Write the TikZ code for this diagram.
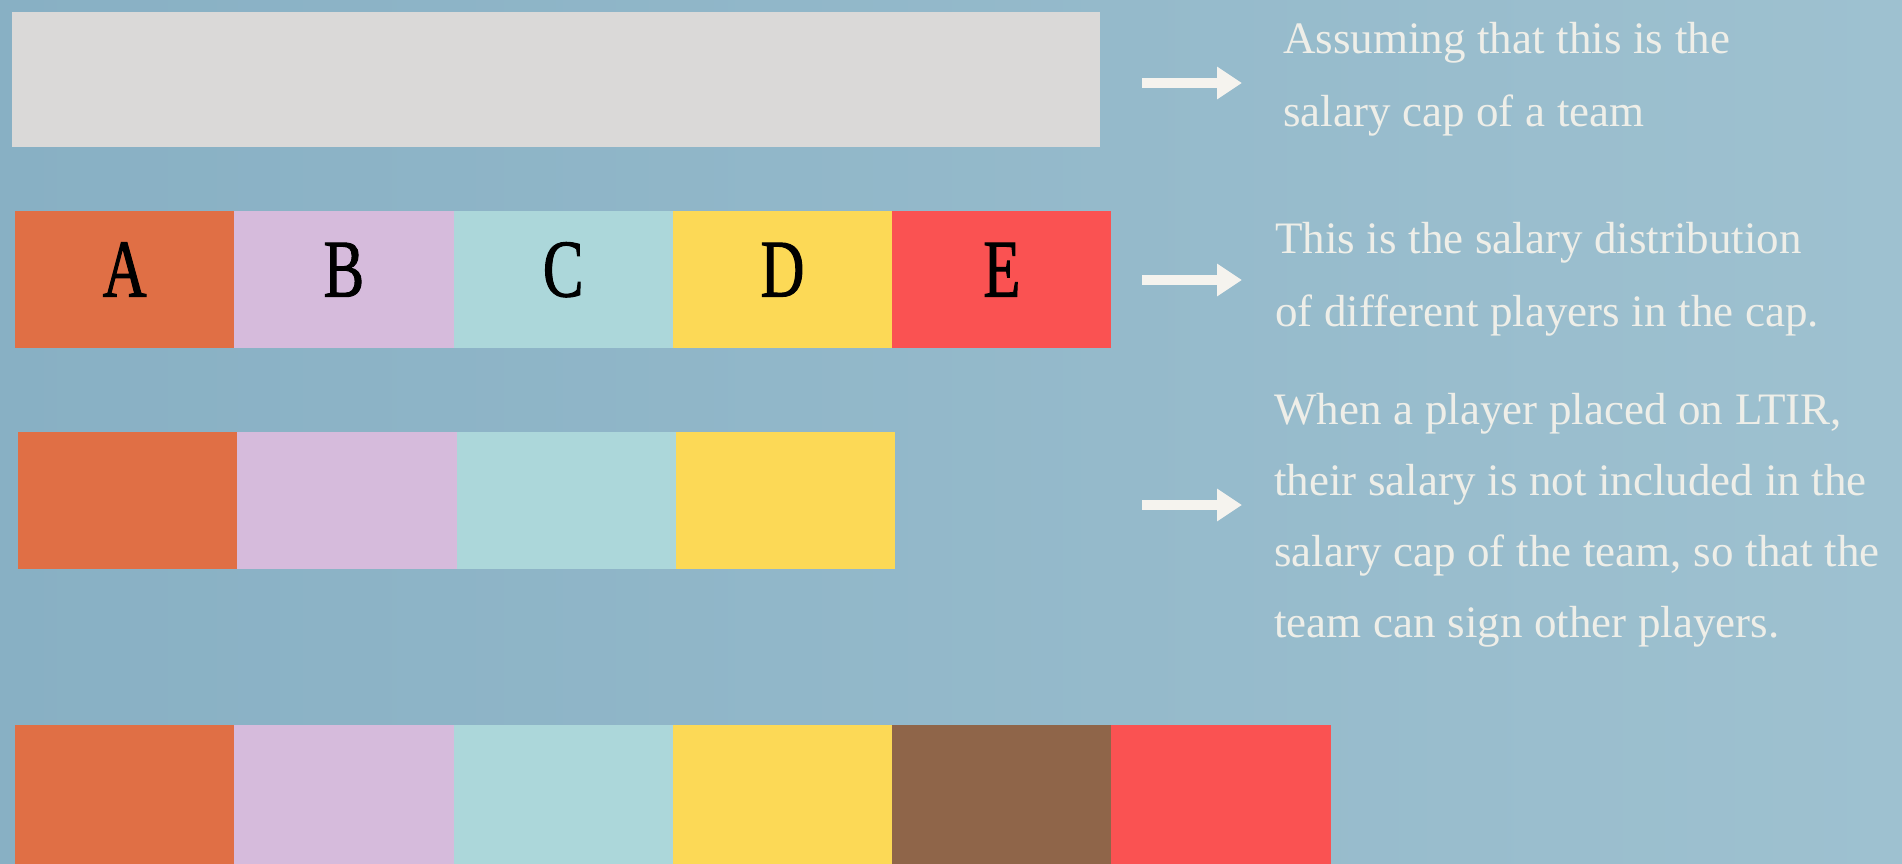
\documentclass[tikz,border=0pt]{standalone}
\usepackage{fontspec}
\setmainfont{Liberation Serif}
\newfontfamily\letterfont{Liberation Serif}[FakeStretch=0.74,FakeBold=1.2]
\usetikzlibrary{arrows.meta}
\newcommand\tightsp{\spaceskip=0.26em\relax}
\definecolor{bgL}{HTML}{88B0C4}
\definecolor{bgR}{HTML}{9EC1D0}
\definecolor{capgray}{HTML}{DAD9D8}
\definecolor{cA}{HTML}{E06F45}
\definecolor{cB}{HTML}{D6BBDC}
\definecolor{cC}{HTML}{ACD7DA}
\definecolor{cD}{HTML}{FCD956}
\definecolor{cE}{HTML}{FA5252}
\definecolor{cF}{HTML}{8F6549}
\definecolor{txt}{HTML}{EEEEE8}
\definecolor{arrw}{HTML}{F5F3EE}
\begin{document}
\begin{tikzpicture}[x=1pt,y=-1pt,
  cell/.style={draw=none, inner sep=0pt, minimum width=219.3pt, minimum height=137pt,
    text height=54pt, text depth=20pt, text=black,
    font=\letterfont\fontsize{82}{82}\selectfont},
  lowcell/.style={cell, minimum height=140pt},
  note/.style={inner sep=0pt, anchor=base west, text width=640pt, align=left,
    text=txt, font=\fontsize{45}{73}\selectfont},
  arr/.style={draw=arrw, line width=10pt, -{Triangle[width=31pt,length=25pt]}}]
\useasboundingbox (0,0) rectangle (1902,863);
\clip (0,0) rectangle (1902,863);
\shade[left color=bgL, right color=bgR] (0,0) rectangle (1902,863);
% row 1: salary cap
\node[draw=none, fill=capgray, inner sep=0pt, minimum width=1088pt, minimum height=135pt] (cap) at (556,79.5) {};
% row 2: players A-E
\node[cell, fill=cA] (rA) at (124.6,279.5) {A};
\node[cell, fill=cB] (rB) at (343.9,279.5) {B};
\node[cell, fill=cC] (rC) at (563.2,279.5) {C};
\node[cell, fill=cD] (rD) at (782.5,279.5) {D};
\node[cell, fill=cE] (rE) at (1001.8,279.5) {E};
% row 3: E on LTIR
\node[cell, fill=cA] (sA) at (127.6,500.5) {};
\node[cell, fill=cB] (sB) at (346.9,500.5) {};
\node[cell, fill=cC] (sC) at (566.2,500.5) {};
\node[cell, fill=cD] (sD) at (785.5,500.5) {};
% row 4: new player signed
\node[lowcell, fill=cA] (tA) at (124.6,795) {};
\node[lowcell, fill=cB] (tB) at (343.9,795) {};
\node[lowcell, fill=cC] (tC) at (563.2,795) {};
\node[lowcell, fill=cD] (tD) at (782.5,795) {};
\node[lowcell, fill=cF] (tF) at (1001.8,795) {};
\node[lowcell, fill=cE] (tE) at (1221.1,795) {};
% notes
\node[note] (n1) at (1283,53) {\tightsp Assuming that this is the\\salary cap of a team};
\node[note] (n2) at (1275,253) {\tightsp This is the salary distribution\\of different players in the cap.};
\node[note, font=\fontsize{45}{71}\selectfont] (n3) at (1274,424) {\tightsp When a player placed on LTIR,\\their salary is not included in the\\salary cap of the team, so that the\\team can sign other players.};
% arrows
\coordinate (a1s) at (1142,83);  \coordinate (a1e) at (1242,83);
\coordinate (a2s) at (1142,280); \coordinate (a2e) at (1242,280);
\coordinate (a3s) at (1142,505); \coordinate (a3e) at (1242,505);
\draw[arr] (a1s) -- (a1e);
\draw[arr] (a2s) -- (a2e);
\draw[arr] (a3s) -- (a3e);
\end{tikzpicture}
\end{document}
